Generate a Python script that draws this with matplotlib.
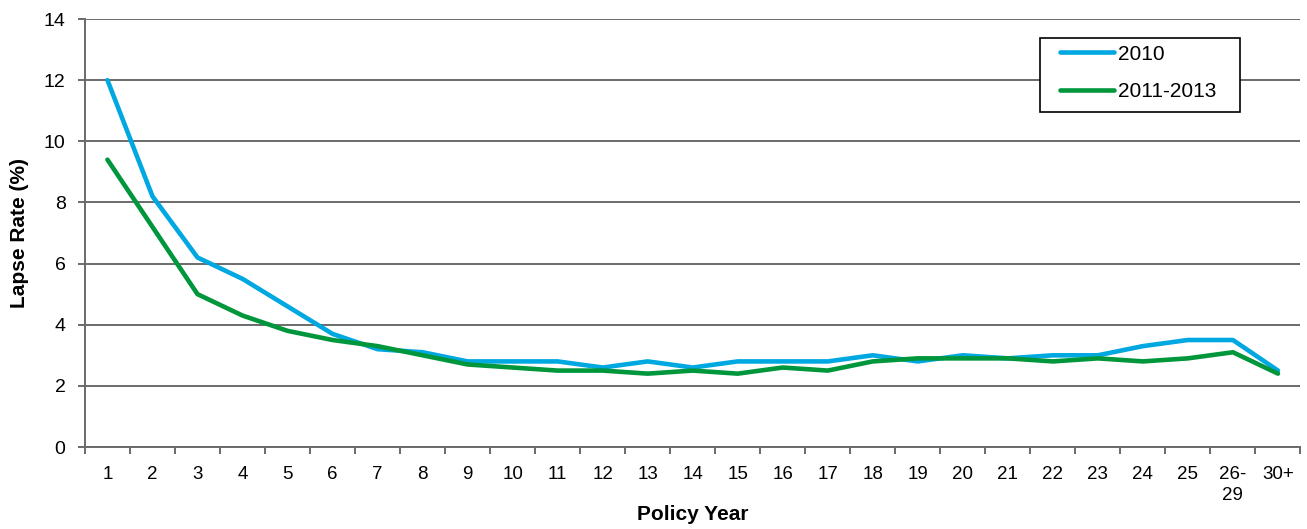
import matplotlib.pyplot as plt
from matplotlib.patches import Rectangle
import numpy as np

plt.rcParams['font.family'] = ['Liberation Sans', 'DejaVu Sans']

# Chart data
policy_years = ['1', '2', '3', '4', '5', '6', '7', '8', '9', '10', '11', '12', '13', '14',
                '15', '16', '17', '18', '19', '20', '21', '22', '23', '24', '25', '26-\n29', '30+']
lapse_2010 = [12.0, 8.2, 6.2, 5.5, 4.6, 3.7, 3.2, 3.1, 2.8, 2.8, 2.8, 2.6, 2.8, 2.6,
              2.8, 2.8, 2.8, 3.0, 2.8, 3.0, 2.9, 3.0, 3.0, 3.3, 3.5, 3.5, 2.5]
lapse_2011_2013 = [9.4, 7.2, 5.0, 4.3, 3.8, 3.5, 3.3, 3.0, 2.7, 2.6, 2.5, 2.5, 2.4, 2.5,
                   2.4, 2.6, 2.5, 2.8, 2.9, 2.9, 2.9, 2.8, 2.9, 2.8, 2.9, 3.1, 2.4]

grid_col = '#6a6a6a'

fig = plt.figure(figsize=(13.07, 5.29), dpi=100)
ax = fig.add_axes([0.065, 0.155, 0.93, 0.809])

x = np.arange(len(policy_years))
ax.plot(x, lapse_2010, color='#00a8e1', lw=3.3, label='2010', solid_capstyle='round', zorder=3)
ax.plot(x, lapse_2011_2013, color='#00963c', lw=3.3, label='2011-2013', solid_capstyle='round', zorder=3)

ax.set_xlim(-0.5, len(policy_years) - 0.5)
ax.set_ylim(0, 14)
ax.set_yticks(np.arange(0, 15, 2))
ax.yaxis.grid(True, color=grid_col, lw=1.4)
ax.set_axisbelow(True)

# category labels sit between the boundary ticks
ax.set_xticks(np.arange(-0.5, len(policy_years), 1))
ax.set_xticklabels([])
ax.set_xticks(x, minor=True)
ax.set_xticklabels(policy_years, minor=True, fontsize=13.5, linespacing=1.33)
ax.tick_params(axis='x', which='minor', length=0, pad=13.5)
ax.tick_params(axis='x', which='major', length=5, width=1.4, color=grid_col)
ax.tick_params(axis='y', length=5, width=1.4, color=grid_col, labelsize=14, pad=9)

for side in ['top', 'right']:
    ax.spines[side].set_visible(False)
for side in ['left', 'bottom']:
    ax.spines[side].set_color(grid_col)
    ax.spines[side].set_linewidth(1.4)

ax.set_xlabel('Policy Year', fontsize=15, fontweight='bold')
ax.set_ylabel('Lapse Rate (%)', fontsize=15, fontweight='bold')
ax.xaxis.set_label_coords(0.5, -0.135)
ax.yaxis.set_label_coords(-0.046, 0.5)

# legend entries without frame, box drawn separately to get Excel-like padding
leg = ax.legend(loc='upper left', bbox_to_anchor=(0.8025, 0.94), fontsize=15,
                frameon=False, handlelength=2.55, handletextpad=0.2,
                borderpad=0, labelspacing=0.9, borderaxespad=0)
leg.set_zorder(5)
ax.add_patch(Rectangle((0.786, 0.7827), 0.1645, 0.1729, transform=ax.transAxes,
                       facecolor='white', edgecolor='black', lw=1.2, zorder=4))

fig.savefig('out.png', dpi=100)
